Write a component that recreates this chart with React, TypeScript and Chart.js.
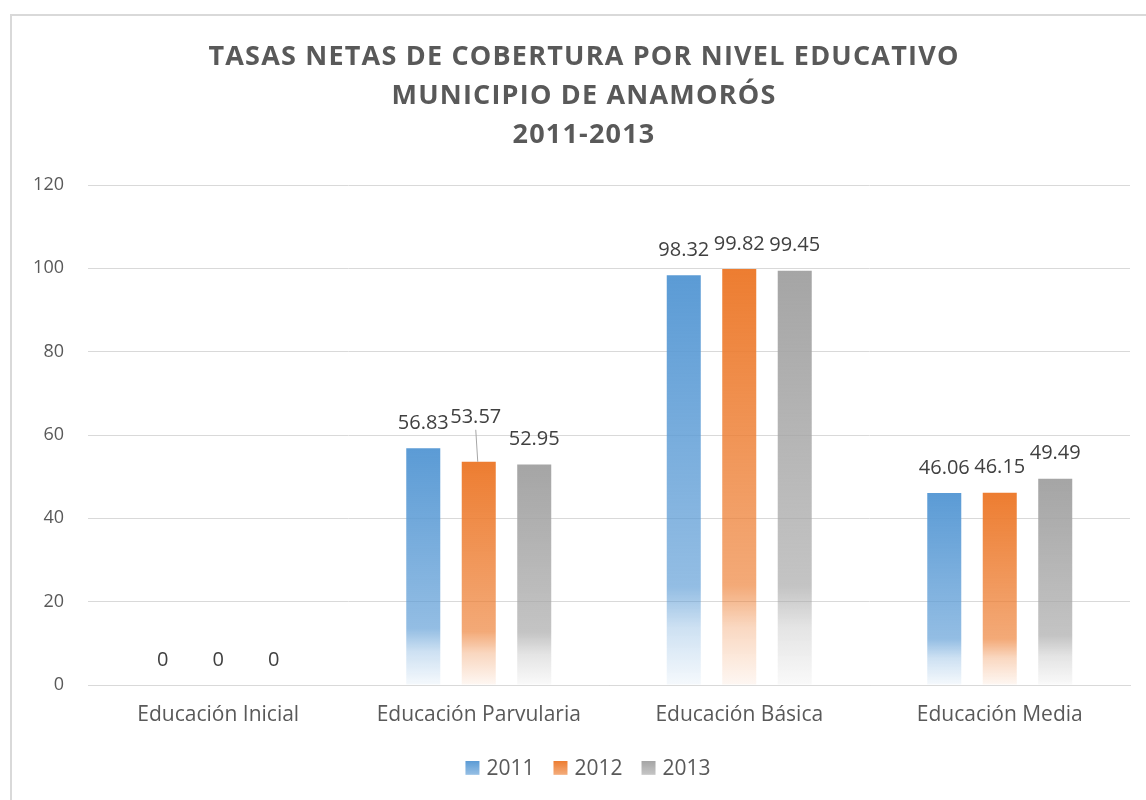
import React, { useEffect, useRef } from "react";
import { Chart, registerables } from "chart.js";

Chart.register(...registerables);

const categories = ["Educación Inicial", "Educación Parvularia", "Educación Básica", "Educación Media"];
const seriesNames = ["2011", "2012", "2013"];
const values2011 = [0, 56.83, 98.32, 46.06];
const values2012 = [0, 53.57, 99.82, 46.15];
const values2013 = [0, 52.95, 99.45, 49.49];
const seriesValues = [values2011, values2012, values2013];
const seriesColors = ["#5B9BD5", "#ED7D31", "#A5A5A5"];
const titleLines = [
  "TASAS NETAS DE COBERTURA POR NIVEL EDUCATIVO",
  "MUNICIPIO DE ANAMORÓS",
  "2011-2013",
];
const yMin = 0;
const yMax = 120;
const yStep = 20;

const FONT = "'Open Sans', Lato, sans-serif";

function rgba(hex: string, a: number) {
  const n = parseInt(hex.slice(1), 16);
  return `rgba(${(n >> 16) & 255},${(n >> 8) & 255},${n & 255},${a})`;
}

function barGradient(c: CanvasRenderingContext2D, hex: string, top: number, bot: number) {
  const g = c.createLinearGradient(0, top, 0, bot);
  g.addColorStop(0, rgba(hex, 1));
  g.addColorStop(0.76, rgba(hex, 0.66));
  g.addColorStop(0.86, rgba(hex, 0.3));
  g.addColorStop(1, rgba(hex, 0.06));
  return g;
}

const titlePlugin = {
  id: "customTitle",
  afterDraw(chart: any) {
    const c = chart.ctx as CanvasRenderingContext2D;
    c.save();
    c.font = `bold 27px ${FONT}`;
    (c as any).letterSpacing = "1.2px";
    c.fillStyle = "#595959";
    c.textAlign = "center";
    c.textBaseline = "middle";
    const ys = [57, 96, 135];
    titleLines.forEach((t, i) => c.fillText(t, 584, ys[i]));
    c.restore();
  },
};

const dataLabelPlugin = {
  id: "dataLabels",
  afterDatasetsDraw(chart: any) {
    const c = chart.ctx as CanvasRenderingContext2D;
    c.save();
    c.font = `20px ${FONT}`;
    c.fillStyle = "#404040";
    c.textAlign = "center";
    c.textBaseline = "middle";
    chart.data.datasets.forEach((ds: any, di: number) => {
      const meta = chart.getDatasetMeta(di);
      meta.data.forEach((el: any, i: number) => {
        const v = ds.data[i];
        const moved = di === 1 && i === 1;
        const lx = moved ? el.x - 3 : el.x;
        const ly = el.y - 25 - (moved ? 19 : 0);
        if (moved) {
          c.save();
          c.strokeStyle = "#A6A6A6";
          c.lineWidth = 1;
          c.beginPath();
          c.moveTo(lx, ly + 12);
          c.lineTo(el.x - 1, el.y);
          c.stroke();
          c.restore();
        }
        c.fillText(v === 0 ? "0" : v.toFixed(2), lx, ly);
      });
    });
    c.restore();
  },
};

const legendPlugin = {
  id: "customLegend",
  afterDraw(chart: any) {
    const c = chart.ctx as CanvasRenderingContext2D;
    c.save();
    c.font = `21px ${FONT}`;
    c.textBaseline = "middle";
    c.textAlign = "left";
    const box = 14;
    const gapText = 7;
    const gapItem = 19;
    const widths = seriesNames.map((s) => box + gapText + c.measureText(s).width);
    const total = widths.reduce((a, b) => a + b, 0) + gapItem * (seriesNames.length - 1);
    let x = 588 - total / 2;
    const cy = 768;
    seriesNames.forEach((s, i) => {
      c.fillStyle = barGradient(c, seriesColors[i], cy - 7, cy + 7 + 3);
      c.fillRect(x, cy - 7, box, box);
      c.fillStyle = "#595959";
      c.fillText(s, x + box + gapText, cy + 1);
      x += widths[i] + gapItem;
    });
    c.restore();
  },
};

export default function App() {
  const ref = useRef<HTMLCanvasElement | null>(null);

  useEffect(() => {
    if (!ref.current) return;
    const chart = new Chart(ref.current, {
      type: "bar",
      data: {
        labels: categories,
        datasets: seriesNames.map((name, i) => ({
          label: name,
          data: seriesValues[i],
          backgroundColor: (ctx: any) => {
            const ch = ctx.chart;
            const hex = seriesColors[i];
            if (!ch.chartArea || ctx.dataIndex === undefined) return hex;
            const v = ctx.raw as number;
            if (!v) return "rgba(0,0,0,0)";
            const ys = ch.scales.y;
            const top = ys.getPixelForValue(v);
            const bot = ys.getPixelForValue(0);
            return barGradient(ch.ctx, hex, top, bot);
          },
          borderWidth: 0,
          categoryPercentage: 0.639,
          barPercentage: 0.613,
        })),
      },
      options: {
        responsive: false,
        animation: false,
        layout: { padding: { top: 185, right: 16, bottom: 55, left: 0 } },
        plugins: {
          legend: { display: false },
          title: { display: false },
          tooltip: { enabled: false },
        },
        scales: {
          x: {
            grid: { display: false, drawTicks: false },
            border: { display: true, color: "#D9D9D9", width: 1 },
            ticks: { color: "#595959", font: { family: FONT, size: 21 }, padding: 17, maxRotation: 0 },
            afterFit: (s: any) => {
              s.height = 60;
            },
          },
          y: {
            min: yMin,
            max: yMax,
            ticks: { stepSize: yStep, color: "#595959", font: { family: FONT, size: 18 }, padding: 24 },
            grid: {
              drawTicks: false,
              color: (ctx: any) => (ctx.tick && ctx.tick.value === 0 ? "#D0D0D0" : "#D9D9D9"),
              lineWidth: 1,
            },
            border: { display: false },
            afterFit: (s: any) => {
              s.width = 88;
            },
          },
        },
      },
      plugins: [titlePlugin, dataLabelPlugin, legendPlugin],
    } as any);
    return () => chart.destroy();
  }, []);

  return (
    <div
      style={{
        position: "fixed",
        left: 0,
        top: 0,
        width: 1146,
        height: 800,
        overflow: "hidden",
        background: "#fff",
      }}
    >
      <div
        style={{
          position: "absolute",
          left: 10,
          top: 14,
          width: 1300,
          height: 900,
          borderLeft: "2px solid #D9D9D9",
          borderTop: "2px solid #D9D9D9",
        }}
      />
      <canvas ref={ref} width={1146} height={800} style={{ position: "absolute", left: 0, top: 0, width: 1146, height: 800 }} />
    </div>
  );
}
